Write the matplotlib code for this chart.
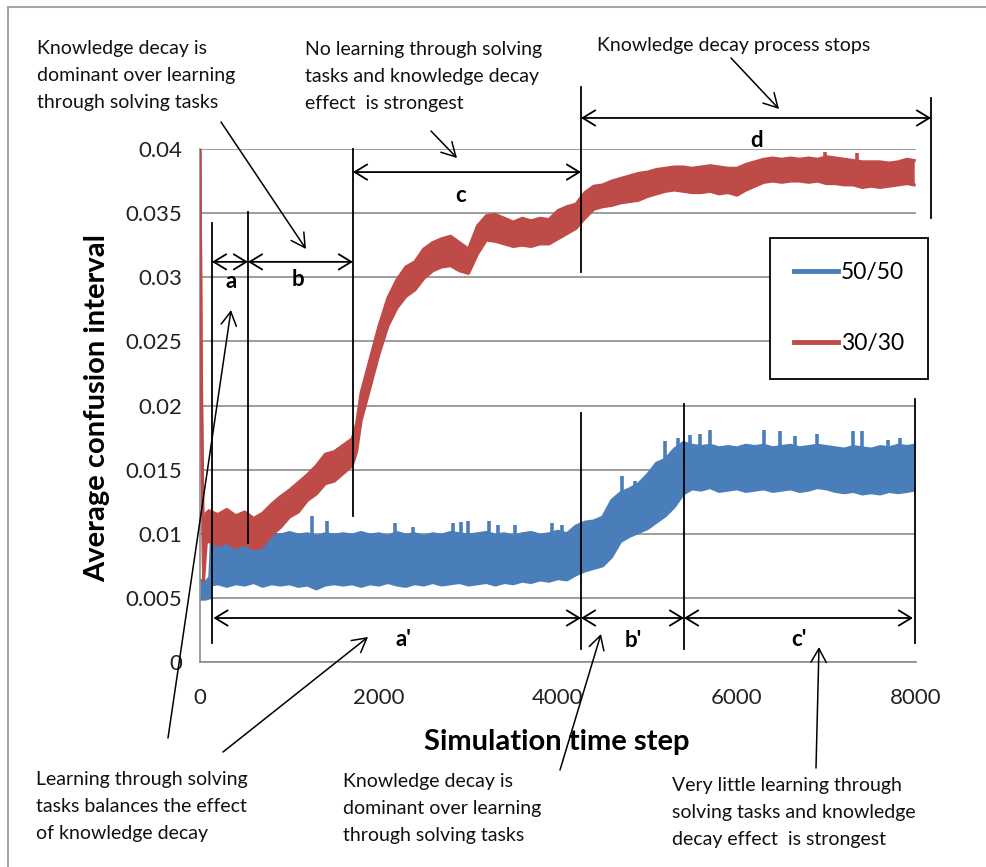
import matplotlib
matplotlib.use("Agg")
import matplotlib.pyplot as plt
import numpy as np
from matplotlib.lines import Line2D
from matplotlib.patches import Rectangle, FancyArrowPatch

plt.rcParams['font.family'] = ['Lato', 'DejaVu Sans']

# series 30/30 (values in 1e-3), lower and upper edge of the noisy trace
red_step = [0, 15, 40, 70, 100, 200, 300, 400, 500, 600, 700, 800, 900, 1000,
            1100, 1200, 1300, 1400, 1500, 1600, 1700, 1750, 1800, 1900, 2000,
            2100, 2200, 2300, 2400, 2500, 2600, 2700, 2800, 2900, 3000, 3100,
            3200, 3300, 3400, 3500, 3600, 3700, 3800, 3900, 4000, 4100, 4200,
            4300, 4400, 4500, 4600, 4700, 4800, 4900, 5000, 5100, 5200, 5300,
            5400, 5500, 5600, 5700, 5800, 5900, 6000, 6100, 6200, 6300, 6400,
            6500, 6600, 6700, 6800, 6900, 7000, 7100, 7200, 7300, 7400, 7500,
            7600, 7700, 7800, 7900, 7980]
red_lo = [40.0, 21.0, 6.3, 9.3, 9.4, 9.1, 9.3, 8.9, 9.2, 8.8, 9.0, 9.9, 10.5, 11.3,
          11.7, 12.6, 13.1, 13.9, 14.1, 14.7, 15.3, 16.4, 18.8, 21.4, 24.0,
          26.2, 27.6, 28.5, 29.0, 29.9, 30.5, 30.8, 30.9, 30.5, 30.3, 31.8,
          32.9, 32.8, 32.6, 32.4, 32.5, 32.4, 32.6, 32.6, 33.0, 33.4, 33.8,
          34.6, 35.3, 35.5, 35.6, 35.8, 35.9, 36.0, 36.3, 36.5, 36.7, 36.8,
          36.7, 36.6, 36.6, 36.7, 36.5, 36.6, 36.4, 36.8, 37.1, 37.4, 37.5,
          37.4, 37.5, 37.5, 37.4, 37.5, 37.3, 37.3, 37.2, 37.2, 37.0, 37.1,
          37.0, 37.1, 37.2, 37.3, 37.2]
red_hi = [40.0, 23.0, 7.0, 11.6, 11.8, 11.5, 11.9, 11.4, 11.7, 11.2, 11.6, 12.3, 12.9, 13.4,
          14.0, 14.6, 15.3, 16.2, 16.4, 16.9, 17.4, 18.6, 21.0, 23.6, 26.2,
          28.4, 29.8, 30.8, 31.2, 32.2, 32.7, 33.0, 33.2, 32.7, 32.2, 34.0,
          34.8, 34.9, 34.6, 34.3, 34.6, 34.4, 34.6, 34.5, 35.2, 35.5, 35.7,
          36.6, 37.1, 37.2, 37.5, 37.7, 37.9, 38.1, 38.2, 38.4, 38.5, 38.6,
          38.6, 38.5, 38.6, 38.7, 38.6, 38.5, 38.5, 38.8, 39.0, 39.2, 39.3,
          39.2, 39.3, 39.2, 39.3, 39.2, 39.4, 39.3, 39.2, 39.1, 39.0, 39.0,
          39.0, 38.9, 39.0, 39.2, 39.1]
red_spike_step = [6980, 7340]
red_spike_top = [39.8, 39.7]

# series 50/50 (values in 1e-3)
blue_step = [0, 60, 110, 130, 200, 300, 400, 500, 600, 700, 800, 900, 1000,
             1100, 1200, 1300, 1400, 1500, 1600, 1700, 1800, 1900, 2000, 2100,
             2200, 2300, 2400, 2500, 2600, 2700, 2800, 2900, 3000, 3100, 3200,
             3300, 3400, 3500, 3600, 3700, 3800, 3900, 4000, 4100, 4200, 4300,
             4400, 4500, 4600, 4700, 4800, 4900, 5000, 5100, 5200, 5300, 5400,
             5500, 5600, 5700, 5800, 5900, 6000, 6100, 6200, 6300, 6400, 6500,
             6600, 6700, 6800, 6900, 7000, 7100, 7200, 7300, 7400, 7500, 7600,
             7700, 7800, 7900, 7980]
blue_lo = [4.9, 4.9, 5.0, 6.0, 6.1, 5.9, 6.1, 6.0, 6.2, 5.9, 6.1, 6.0, 6.1,
           5.9, 6.0, 5.7, 6.0, 6.1, 6.0, 6.1, 5.9, 6.1, 6.0, 6.2,
           6.0, 5.9, 6.1, 6.0, 6.2, 6.0, 6.1, 6.2, 6.0, 6.1, 6.2,
           6.0, 6.2, 6.1, 6.3, 6.2, 6.4, 6.3, 6.5, 6.4, 6.8, 7.1,
           7.3, 7.5, 8.2, 9.4, 9.8, 10.1, 10.4, 10.9, 11.4, 12.1, 13.1,
           13.5, 13.4, 13.6, 13.3, 13.4, 13.5, 13.3, 13.4, 13.5, 13.3, 13.4,
           13.5, 13.3, 13.4, 13.6, 13.5, 13.3, 13.2, 13.3, 13.1, 13.2, 13.1,
           13.3, 13.2, 13.3, 13.4]
blue_hi = [6.4, 6.2, 6.6, 9.9, 10.0, 9.8, 10.1, 9.9, 10.0, 9.8, 10.0, 9.9, 10.1,
           9.9, 10.0, 9.8, 10.0, 9.9, 10.0, 9.9, 10.1, 9.9, 10.0, 9.8,
           10.1, 9.9, 10.0, 9.8, 10.0, 9.9, 10.1, 10.0, 9.9, 10.0, 10.1,
           9.9, 10.0, 9.8, 10.0, 10.1, 9.9, 10.0, 10.2, 10.0, 10.6, 10.9,
           11.0, 11.3, 12.6, 13.2, 13.5, 13.9, 14.6, 15.5, 15.8, 16.6, 17.1,
           16.9, 16.8, 16.9, 16.7, 16.8, 16.7, 16.9, 16.8, 16.9, 16.7, 16.8,
           16.9, 16.7, 16.8, 16.9, 16.8, 16.7, 16.6, 16.8, 16.7, 16.6, 16.8,
           16.7, 16.9, 16.8, 16.9]
blue_spike_step = [1255, 1423, 2180, 2380, 2830, 2920, 2990, 3230, 3330, 3520, 3930, 4045,
                   4712, 4860, 5196, 5345, 5475, 5586, 5698, 6302, 6481, 6649, 6891,
                   7301, 7394, 7692, 7823]
blue_spike_top = [11.4, 11.0, 10.8, 10.5, 10.8, 10.9, 11.0, 11.0, 10.65, 10.65, 10.8, 10.65,
                  14.5, 14.1, 17.2, 17.5, 17.7, 17.8, 18.1, 18.1, 18.0, 17.6, 17.8,
                  18.0, 18.0, 17.3, 17.5]

series_names = ['50/50', '30/30']
x_ticks = [0, 2000, 4000, 6000, 8000]
x_tick_labels = ['0', '2000', '4000', '6000', '8000']
y_ticks = [0, 0.005, 0.01, 0.015, 0.02, 0.025, 0.03, 0.035, 0.04]
y_tick_labels = ['0', '0.005', '0.01', '0.015', '0.02', '0.025', '0.03', '0.035', '0.04']

BLUE = '#4A7EBB'
RED = '#BE4B48'
W, H = 986, 867


def px(x, y):
    # reference pixel -> figure fraction
    return (x / W, 1 - y / H)


def draw_band(ax, steps, lo, hi, color, z):
    s = np.array(steps)
    lo = np.array(lo) * 1e-3
    hi = np.array(hi) * 1e-3
    ax.fill_between(s, lo, hi, color=color, lw=0, zorder=z)
    ax.plot(s, lo, color=color, lw=2.2, zorder=z)
    ax.plot(s, hi, color=color, lw=2.2, zorder=z)
    return s, lo, hi


def draw_spikes(ax, steps, tops, s, lo, hi, color, z):
    base = np.interp(steps, s, (lo + hi) / 2)
    ax.vlines(steps, base, np.array(tops) * 1e-3, color=color, lw=2.6, zorder=z)


fig = plt.figure(figsize=(W / 100, H / 100), dpi=100)
ax = fig.add_axes([200 / W, 1 - 662 / H, 716 / W, 513 / H])

s, lo, hi = draw_band(ax, blue_step, blue_lo, blue_hi, BLUE, 2)
draw_spikes(ax, blue_spike_step, blue_spike_top, s, lo, hi, BLUE, 2)
s, lo, hi = draw_band(ax, red_step, red_lo, red_hi, RED, 3)
draw_spikes(ax, red_spike_step, red_spike_top, s, lo, hi, RED, 3)

ax.set_xlim(0, 8000)
ax.set_ylim(0, 0.04)
ax.set_xticks(x_ticks)
ax.set_xticklabels(x_tick_labels)
ax.set_yticks(y_ticks)
ax.set_yticklabels(y_tick_labels)
ax.tick_params(axis='both', length=0, labelsize=16, colors='#222222')
ax.tick_params(axis='y', pad=13)
ax.tick_params(axis='x', pad=19)
ax.yaxis.grid(True, color='#8c8c8c', lw=1.2, zorder=0)
ax.set_axisbelow(True)
for side in ['top', 'right']:
    ax.spines[side].set_visible(False)
for side in ['left', 'bottom']:
    ax.spines[side].set_color('#8c8c8c')
    ax.spines[side].set_linewidth(1.2)

fig.text(*px(97, 408), 'Average confusion interval', rotation=90, fontsize=21,
         fontweight='bold', ha='center', va='center')
fig.text(*px(557, 742), 'Simulation time step', fontsize=21,
         fontweight='bold', ha='center', va='center')

handles = [Line2D([], [], color=BLUE, lw=3.5), Line2D([], [], color=RED, lw=3.5)]
leg = ax.legend(handles, series_names, loc='upper left', bbox_to_anchor=(0.796, 0.8265),
                borderaxespad=0, fontsize=16.5, frameon=True, fancybox=False,
                handlelength=1.9, handletextpad=0.15, labelspacing=2.2,
                borderpad=1.05)
leg.get_frame().set_edgecolor('black')
leg.get_frame().set_linewidth(1.3)
leg.get_frame().set_alpha(1)
leg.set_zorder(6)

# segment boundaries (steps) and their vertical extents (values)
seg_lines = [
    (134, 0.0342, 0.0015), (536, 0.0351, 0.0093), (1709, 0.0400, 0.0114),
    (4257, 0.0448, 0.0304), (4257, 0.0194, 0.0010), (5408, 0.0201, 0.0010),
    (7989, 0.0205, 0.0015), (8168, 0.0440, 0.0346),
]
for xs, y0, y1 in seg_lines:
    ax.add_line(Line2D([xs, xs], [y0, y1], color='black', lw=1.3, clip_on=False, zorder=5))

dim_style = '<->,head_length=0.9,head_width=0.55'
dims = [
    (134, 536, 0.0312, 'a', 346, 0.0297),
    (536, 1709, 0.0312, 'b', 1095, 0.0298),
    (1709, 4257, 0.0382, 'c', 2916, 0.0364),
    (4257, 8168, 0.04242, 'd', 6223, 0.0407),
    (150, 4257, 0.00343, "a'", 2268, 0.00172),
    (4257, 5408, 0.00343, "b'", 4838, 0.00164),
    (5408, 7966, 0.00343, "c'", 6692, 0.00172),
]
for x0, x1, yy, lab, lx, ly in dims:
    ax.add_patch(FancyArrowPatch((x0, yy), (x1, yy), arrowstyle=dim_style,
                                 mutation_scale=10, color='black', lw=1.3,
                                 shrinkA=0, shrinkB=0, clip_on=False, zorder=5))
    ax.text(lx, ly, lab, fontsize=16, fontweight='bold', ha='center', va='center',
            zorder=5, clip_on=False)

call_style = '->,head_length=0.9,head_width=0.5'
callouts = [
    ((221, 122), (306, 249)),
    ((431, 131), (457, 158)),
    ((731, 58), (779, 109)),
    ((168, 738), (231, 310)),
    ((223, 752), (368, 637)),
    ((560, 770), (601, 634)),
    ((816, 768), (819, 647)),
]
for a, b in callouts:
    fig.add_artist(FancyArrowPatch(px(*a), px(*b), transform=fig.transFigure,
                                   arrowstyle=call_style, mutation_scale=11,
                                   shrinkA=0, shrinkB=0,
                                   color='black', lw=1.1, zorder=5))

notes = [
    (37, 40, 'Knowledge decay is\ndominant over learning\nthrough solving tasks'),
    (305, 41, 'No learning through solving\ntasks and knowledge decay\neffect  is strongest'),
    (597, 37, 'Knowledge decay process stops'),
    (36, 771, 'Learning through solving\ntasks balances the effect\nof knowledge decay'),
    (343, 773, 'Knowledge decay is\ndominant over learning\nthrough solving tasks'),
    (672, 777, 'Very little learning through\nsolving tasks and knowledge\ndecay effect  is strongest'),
]
for x, y, t in notes:
    fig.text(*px(x, y), t, fontsize=14, ha='left', va='top', linespacing=1.7,
             color='#111111')

fig.add_artist(Rectangle(px(8, 1000), 1.2, (1000 - 7) / H, transform=fig.transFigure,
                         fill=False, ec='#a6a6a6', lw=1.5))

fig.savefig('out.png', dpi=100)
